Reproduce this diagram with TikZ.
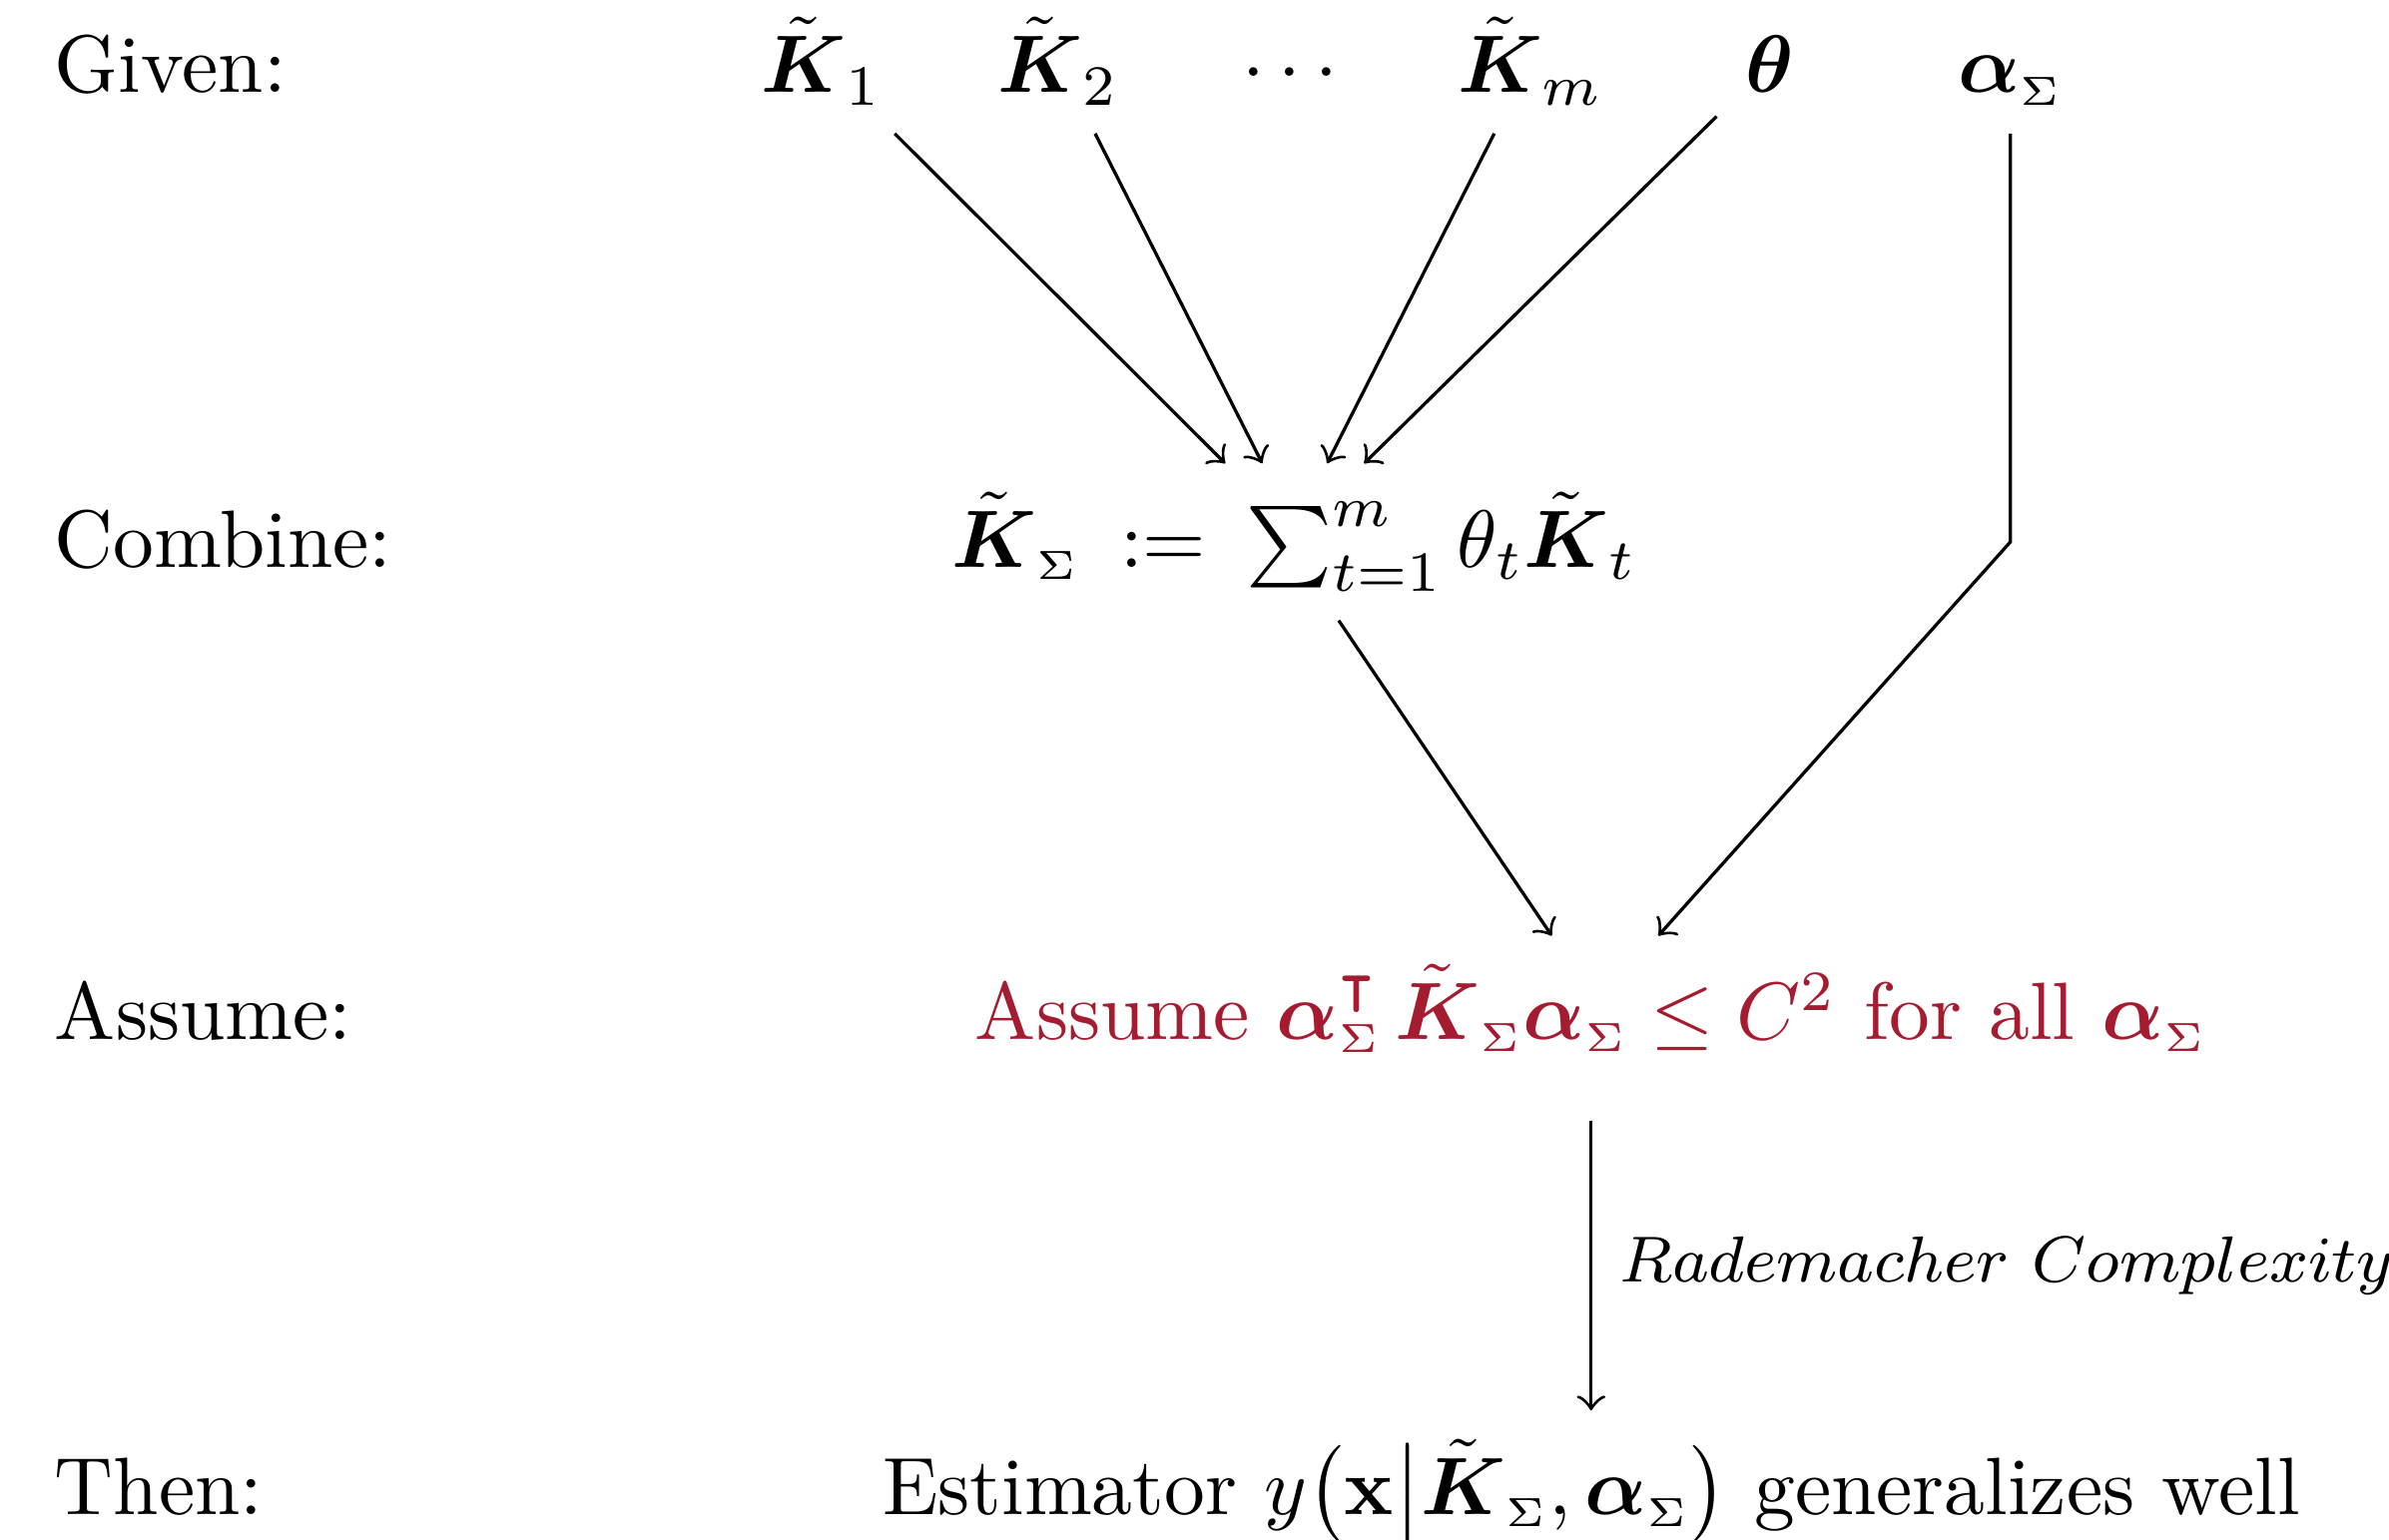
\documentclass[tikz,border=0pt]{standalone}
\usepackage{amsmath,amssymb}
\usepackage{xcolor}
\usepackage{tikz}
\usetikzlibrary{calc}
\definecolor{crimson}{HTML}{A51C30}
\newcommand{\Kt}{\tilde{\boldsymbol{K}}}
\newcommand{\aS}{\boldsymbol{\alpha}_{\scriptscriptstyle\Sigma}}
\tikzset{
  lbl/.style  = {anchor=base west, inner sep=0pt},
  term/.style = {anchor=base},
  ar/.style   = {->},
  rlbl/.style = {font=\footnotesize, right},
}

\begin{document}
\begin{tikzpicture}
  \useasboundingbox (0,0) rectangle (10.315,-6.651);
  % row labels
  \node[lbl] (lgiven)  at (0.23,-0.40) {Given:};
  \node[lbl] (lcomb)   at (0.23,-2.45) {Combine:};
  \node[lbl] (lassume) at (0.23,-4.49) {Assume:};
  \node[lbl] (lthen)   at (0.23,-6.54) {Then:};
  % given terms
  \node[term] (k1)    at (3.55,-0.40) {$\Kt_1$};
  \node[term] (k2)    at (4.57,-0.40) {$\Kt_2$};
  \node[term] (kdots) at (5.60,-0.40) {$\cdots$};
  \node[term] (km)    at (6.61,-0.40) {$\Kt_m$};
  \node[term] (th)    at (7.64,-0.40) {$\boldsymbol{\theta}$};
  \node[term] (al)    at (8.68,-0.40) {$\aS$};
  % combine, assume, then
  \node[term] (comb) at (5.59,-2.45)
    {$\Kt_{\scriptscriptstyle\Sigma} \::=\: \sum_{t=1}^m \theta_t \Kt_t$};
  \node[term, text=crimson] (assume) at (6.87,-4.49)
    {Assume $\aS^{\intercal}\,\Kt_{\scriptscriptstyle\Sigma}\aS \leq C^2$ for all $\aS$};
  \node[term] (then) at (6.87,-6.54)
    {Estimator $y\bigl(\mathbf{x}\big|\Kt_{\scriptscriptstyle\Sigma},\aS\bigr)$ generalizes well};

  \draw[ar] (k1) -- ([xshift=-3mm]comb.north);
  \draw[ar] (k2) -- ([xshift=-1.4mm]comb.north);
  \draw[ar] (km) -- ([xshift=1.4mm]comb.north);
  \draw[ar] (th) -- ([xshift=3mm]comb.north);
  \draw[ar] ([xshift=1.9mm]comb.south) -- ([xshift=-1.7mm]assume.north);
  \draw[ar] (al) -- (al |- comb) -- ([xshift=2.9mm]assume.north);
  \draw[ar] ([yshift=-1.7mm]assume.south) -- node[rlbl] {$Rademacher\ Complexity$} (then.north);
\end{tikzpicture}
\end{document}
